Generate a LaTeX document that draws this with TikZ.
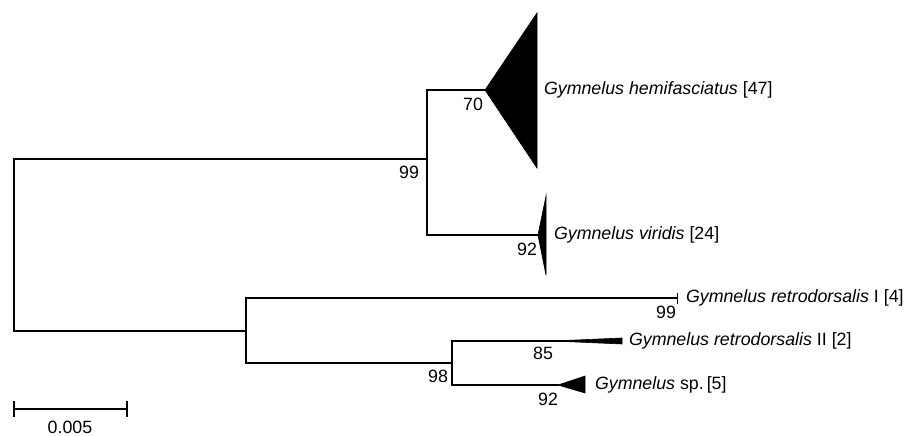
\documentclass[tikz,border=0pt]{standalone}
\usepackage{fontspec}
\setmainfont{Liberation Sans}
\begin{document}
\begin{tikzpicture}[x=1pt,y=-1pt,line width=2pt,line cap=rect,
  branch/.style={draw=black,line width=2pt},
  clade/.style={fill=black,draw=black,line width=0.6pt,line join=miter},
  taxon/.style={anchor=west,inner sep=0pt,font=\fontsize{17.8}{20}\selectfont},
  boot/.style={inner sep=0pt,font=\fontsize{17.8}{20}\selectfont}]
\useasboundingbox (0,0) rectangle (916,436);
% tree vertices
\coordinate (rtop) at (14,159);
\coordinate (rbot) at (14,331);
\coordinate (aS) at (427,159);
\coordinate (aT) at (427,90);
\coordinate (aB) at (427,235);
\coordinate (hemi) at (485,90);
\coordinate (viri) at (538,235);
\coordinate (bS) at (246,331);
\coordinate (bT) at (246,298);
\coordinate (bB) at (246,363);
\coordinate (ret1) at (677,298);
\coordinate (cS) at (452,363);
\coordinate (cT) at (452,341);
\coordinate (cB) at (452,385);
\coordinate (ret2) at (553,341);
\coordinate (ret2e) at (590,341);
\coordinate (spp) at (558,385);
% root
\draw[branch] (rtop) -- (rbot);
\draw[branch] (rtop) -- (aS);
\draw[branch] (rbot) -- (bS);
% clade A
\draw[branch] (aT) -- (aB);
\draw[branch] (aT) -- (hemi);
\draw[branch] (aB) -- (viri);
\fill[clade] (hemi) -- (537,13) -- (537,168) -- cycle;
\fill[clade] (viri) -- (546,196) -- (546,275) -- cycle;
% clade B
\draw[branch] (bT) -- (bB);
\draw[branch] (bT) -- (ret1);
\draw[line width=1pt] (677,293) -- (677,303);
\draw[branch] (bB) -- (cS);
\draw[branch] (cT) -- (cB);
\draw[branch] (cT) -- (ret2e);
\draw[branch] (cB) -- (spp);
\fill[clade] (ret2) -- (622,338) -- (622,344) -- cycle;
\fill[clade] (spp) -- (585,376) -- (585,393) -- cycle;
% taxon labels
\node[taxon] (lhemi) at (543,90) {\textit{Gymnelus hemifasciatus} [47]};
\node[taxon] (lviri) at (553,235) {\textit{Gymnelus viridis} [24]};
\node[taxon] (lret1) at (685,298) {\textit{Gymnelus retrodorsalis} I [4]};
\node[taxon] (lret2) at (628,341) {\textit{Gymnelus retrodorsalis} II [2]};
\node[taxon] (lsp) at (594,385) {\textit{Gymnelus} sp.\,[5]};
% bootstrap values
\node[boot] (b99a) at (409,172) {99};
\node[boot] (b70) at (473,104) {70};
\node[boot] (b92a) at (527,249) {92};
\node[boot] (b99b) at (666,312) {99};
\node[boot] (b85) at (543,353) {85};
\node[boot] (b98) at (438,376) {98};
\node[boot] (b92b) at (548,399) {92};
% scale bar
\coordinate (sL) at (14,409);
\coordinate (sR) at (127,409);
\draw[branch] (sL) -- (sR);
\draw[branch] (14,402) -- (14,416);
\draw[branch] (127,402) -- (127,416);
\node[boot] (scale) at (70,427) {0.005};
\end{tikzpicture}
\end{document}
